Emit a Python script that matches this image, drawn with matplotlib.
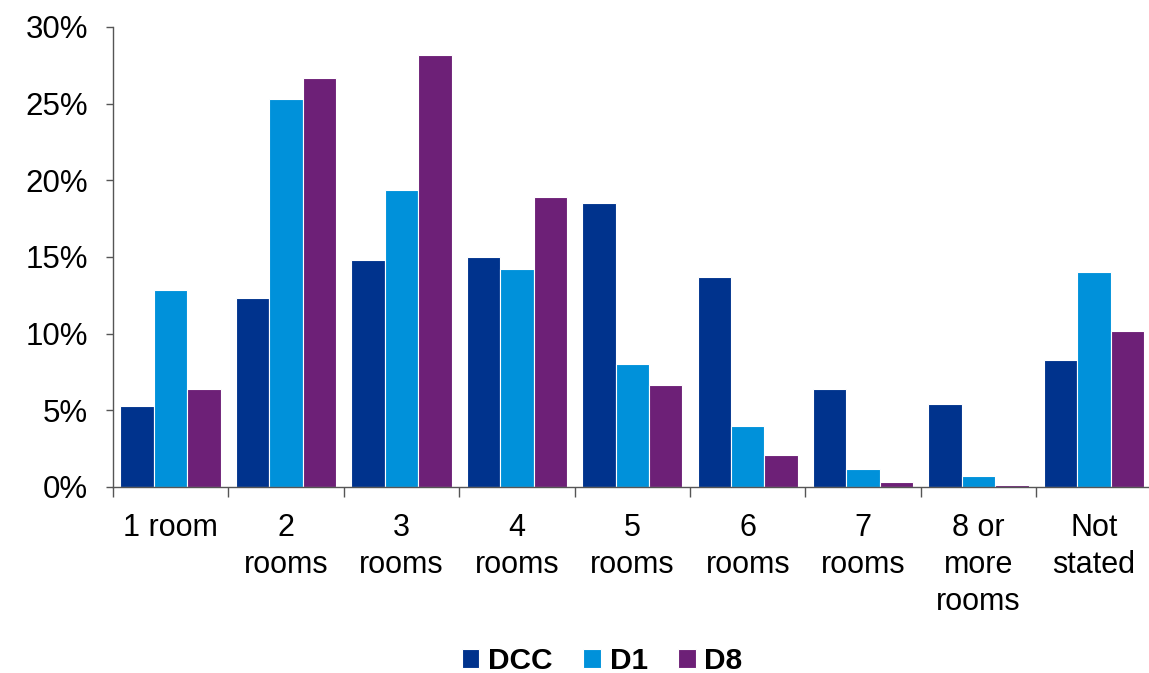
import matplotlib.pyplot as plt
import matplotlib.ticker as mticker
import numpy as np

plt.rcParams['font.family'] = ['Liberation Sans', 'DejaVu Sans']

categories = ['1 room', '2\nrooms', '3\nrooms', '4\nrooms', '5\nrooms',
              '6\nrooms', '7\nrooms', '8 or\nmore\nrooms', 'Not\nstated']
dcc = [5.3, 12.3, 14.8, 15.0, 18.5, 13.7, 6.4, 5.4, 8.3]
d1 = [12.85, 25.3, 19.4, 14.2, 8.0, 4.0, 1.2, 0.7, 14.0]
d8 = [6.4, 26.7, 28.2, 18.9, 6.65, 2.1, 0.3, 0.1, 10.2]

series = [('DCC', dcc, '#00338D'), ('D1', d1, '#0091DA'), ('D8', d8, '#6D2077')]

fig = plt.figure(figsize=(11.49, 6.73), dpi=100)
ax = fig.add_axes([0.0983, 0.2764, 0.904, 0.6835])

x = np.arange(len(categories))
w = 0.29
for i, (name, vals, col) in enumerate(series):
    ax.bar(x + (i - 1) * w, vals, width=w, color=col, edgecolor='white',
           linewidth=0.8, label=name)

ax.set_xlim(-0.5, len(categories) - 0.5)
ax.set_ylim(0, 30)
ax.yaxis.set_major_locator(mticker.MultipleLocator(5))
ax.yaxis.set_major_formatter(mticker.FuncFormatter(lambda v, p: f'{v:.0f}%'))

ax.set_xticks(x)
ax.set_xticklabels(categories, fontsize=22, linespacing=1.3, va='top')
ax.set_xticks(np.arange(-0.5, len(categories), 1), minor=True)
ax.tick_params(axis='x', which='major', length=0, pad=19)
ax.tick_params(axis='x', which='minor', length=7, width=1, color='#555555')
ax.tick_params(axis='y', labelsize=22.5, length=5, width=1, color='#555555', pad=13)

for s in ['top', 'right']:
    ax.spines[s].set_visible(False)
for s in ['left', 'bottom']:
    ax.spines[s].set_color('#555555')
    ax.spines[s].set_linewidth(1)

leg = fig.legend(loc='center', bbox_to_anchor=(0.524, 0.018), ncol=3, frameon=False,
                 prop={'size': 21.5, 'weight': 'bold'}, handlelength=0.6,
                 handleheight=0.6, handletextpad=0.3, columnspacing=1.0)

fig.savefig('out.png', dpi=100)
